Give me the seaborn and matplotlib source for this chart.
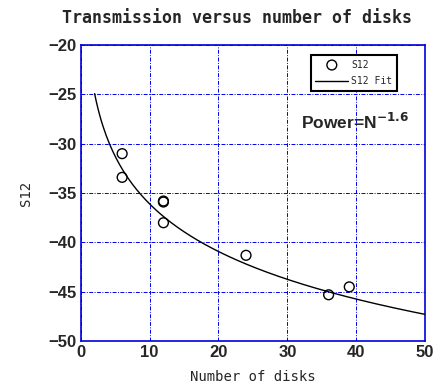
import numpy as np
import pandas as pd
import matplotlib
matplotlib.use("Agg")
import matplotlib.pyplot as plt
import seaborn as sns

# Measured transmission for each disk count
disks = [6, 6, 12, 12, 12, 24, 36, 39]
s12 = [-31.0, -33.4, -35.8, -35.9, -38.0, -41.3, -45.3, -44.5]

# Power-law fit in dB: S12 = offset + 10*exponent*log10(N)
fit_exponent = -1.6
fit_offset = -20.1
fit_n = np.linspace(2, 50, 200)
fit_s12 = fit_offset + 10 * fit_exponent * np.log10(fit_n)

x_ticks = [0, 10, 20, 30, 40, 50]
y_ticks = [-50, -45, -40, -35, -30, -25, -20]

sns.set_style("white")
plt.rcParams["font.family"] = ["DejaVu Sans Mono"]

fig = plt.figure(figsize=(4.37, 3.89), dpi=100)
ax = fig.add_axes([0.185, 0.123, 0.7875, 0.761])

meas = pd.DataFrame({"N": disks, "S12": s12})
fit = pd.DataFrame({"N": fit_n, "S12": fit_s12})

sns.lineplot(data=fit, x="N", y="S12", ax=ax, color="black", linewidth=1.0,
             label="S12 Fit", zorder=3)
sns.scatterplot(data=meas, x="N", y="S12", ax=ax, marker="o", s=50,
                facecolor="none", edgecolor="black", linewidth=1.0,
                label="S12", zorder=4)

ax.set_xlim(0, 50)
ax.set_ylim(-50, -20)
ax.set_xticks(x_ticks)
ax.set_yticks(y_ticks)
ax.set_xticklabels([str(t) for t in x_ticks])
ax.set_yticklabels([str(t).replace("-", "\u2212") for t in y_ticks])
for lab in ax.get_xticklabels() + ax.get_yticklabels():
    lab.set_fontfamily("Liberation Sans")
    lab.set_fontweight("bold")
    lab.set_fontsize(12)

ax.grid(True, color="#0000ee", linestyle=(0, (4, 1.5, 1, 1.5)), linewidth=0.7)
for sp in ax.spines.values():
    sp.set_color("#0000dd")
    sp.set_linewidth(1.2)
ax.tick_params(axis="both", direction="in", length=3, color="#0000dd",
               pad=3)

ax.set_xlabel("Number of disks", fontsize=10, labelpad=7)
ax.set_ylabel("S12", fontsize=10, labelpad=11)
fig.text(237 / 437, 1 - 18 / 389, "Transmission versus number of disks",
         fontsize=12, fontweight="bold", ha="center", va="center")

handles, labels = ax.get_legend_handles_labels()
order = [labels.index("S12"), labels.index("S12 Fit")]
leg = ax.legend([handles[i] for i in order], [labels[i] for i in order],
                loc="upper right", bbox_to_anchor=(0.918, 0.966),
                fontsize=7, frameon=True, fancybox=False, framealpha=1,
                edgecolor="black", handlelength=3.4, borderpad=0.45,
                labelspacing=0.7, handletextpad=0.3, borderaxespad=0)
leg.get_frame().set_linewidth(1.5)

ax.text(0.64, 0.74, r"Power=N$^{\mathbf{-1.6}}$", transform=ax.transAxes,
        fontsize=12.5, fontweight="bold", fontfamily="Liberation Sans",
        ha="left", va="center")

fig.savefig("out.png", dpi=100)
